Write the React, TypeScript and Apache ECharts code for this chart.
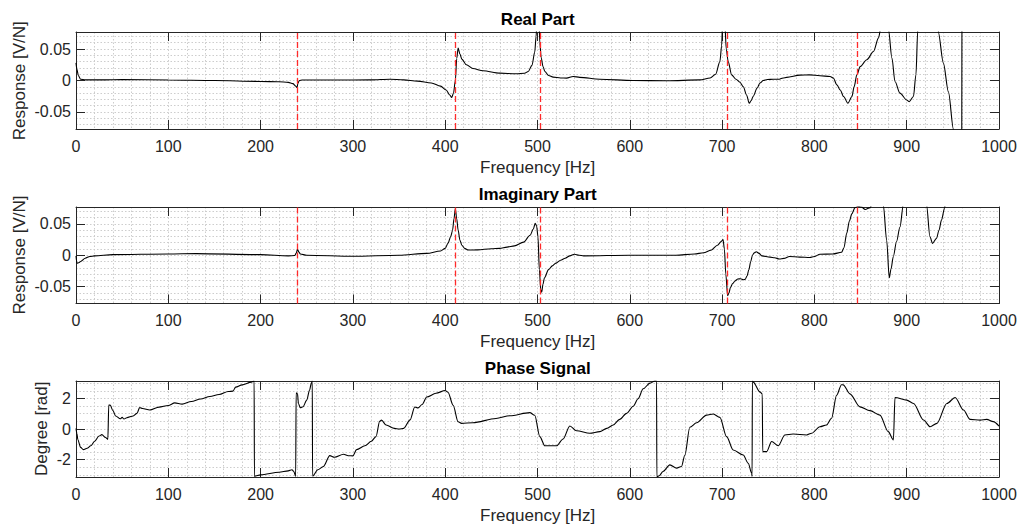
import React, { useEffect, useRef } from 'react';
import * as echarts from 'echarts';

// ---------- data ----------
const resonanceFreqs = [240, 410.5, 503, 706, 846];
const responseTicks = [-0.05, 0, 0.05];
const phaseTicks = [-2, 0, 2];
const responseLimit = 0.077;
const phaseLimit = Math.PI;

const realFreq = [0, 1, 2.5, 5, 10, 30, 50, 100, 150, 200, 220, 230, 235, 238, 239.5, 240.5, 242, 245, 280, 320, 340, 355, 370, 385, 395, 401, 405, 407, 409, 411, 412.5, 414, 416, 418, 423, 430, 441, 459, 477, 486, 490, 494, 497, 498.5, 499.5, 501.5, 502.5, 504, 506, 508, 512, 517, 525, 531.5, 538.6, 545.8, 567.6, 603.6, 640, 676, 687, 693, 697.6, 699.5, 700.5, 703, 704.5, 706.6, 710.3, 715, 719.3, 723, 726.5, 729.4, 731.5, 733.7, 738, 741, 744.6, 749, 755.4, 762, 766, 770, 784.3, 795, 806, 817, 820.5, 824.4, 828, 831.6, 836.3, 840.7, 843, 846, 849.6, 856.8, 864, 869.5, 871.5, 875, 878, 880.3, 884, 887.3, 892.7, 900, 902.8, 907.3, 910, 912, 914, 932, 934.2, 939.7, 945.2, 950.6, 952, 959.5, 960, 1000];
const realVal = [0.028, 0.018, 0.008, 0.002, 0.001, 0.001, 0.0015, 0.0008, 0.0, -0.0015, -0.002, -0.003, -0.005, -0.009, -0.011, -0.004, 0.0, 0.0008, 0.0008, 0.001, 0.002, 0.001, -0.001, -0.004, -0.009, -0.015, -0.023, -0.027, -0.02, 0.0, 0.035, 0.0515, 0.042, 0.034, 0.025, 0.019, 0.0154, 0.0117, 0.0106, 0.0115, 0.0144, 0.024, 0.045, 0.07, 0.1, 0.1, 0.06, 0.036, 0.022, 0.0144, 0.008, 0.0053, 0.004, 0.0037, 0.0064, 0.005, 0.0021, 0.0, -0.0005, 0.001, 0.004, 0.01, 0.03, 0.055, 0.09, 0.09, 0.05, 0.03, 0.009, 0.002, -0.0027, -0.01, -0.023, -0.036, -0.032, -0.025, -0.012, -0.004, 0.0, 0.0015, 0.002, 0.002, 0.004, 0.005, 0.0085, 0.009, 0.0075, 0.0064, 0.004, -0.007, -0.015, -0.0255, -0.036, -0.0255, -0.01, 0.009, 0.022, 0.033, 0.046, 0.0676, 0.08, 0.12, 0.12, 0.08, 0.0356, -0.0016, -0.02, -0.031, -0.0335, -0.0255, 0.009, 0.08, 0.15, 0.15, 0.077, 0.028, -0.018, -0.077, -0.1, -0.2, 0.2, 0.2];

const imagFreq = [0, 1, 3, 5, 10, 15, 20, 40, 100, 130, 200, 230, 237, 238.5, 240, 241.5, 243, 250, 300, 350, 380, 395, 400, 403, 406, 408, 409.5, 411, 412.5, 414, 416, 418, 421, 425, 435, 450, 459, 467, 475, 485, 492, 495.5, 497.5, 499, 500.5, 502, 503.5, 504.5, 506, 507.5, 512, 516, 520, 525, 530, 535, 540, 545, 550, 600, 650, 670, 680, 688, 695, 699, 701, 702.5, 704, 706, 707.5, 709, 711.5, 714, 717, 720, 723, 725, 727, 729, 731, 733, 735, 737, 740, 743, 752, 757, 762, 767, 773, 784, 795, 800, 806, 820, 829.5, 832, 835, 838, 840.5, 844, 847.8, 851, 855, 860.4, 862, 868, 873, 874.7, 878.3, 881.1, 883, 885.5, 889, 892.7, 896.3, 898, 920, 921.5, 925.2, 928, 932.3, 935, 937.7, 941, 942.5, 946, 1000];
const imagVal = [-0.001, -0.0125, -0.012, -0.01, -0.0047, -0.002, -0.001, 0.001, 0.002, 0.0026, 0.001, -0.001, -0.0005, 0.003, 0.0095, 0.005, 0.002, 0.0, -0.0016, 0.0, 0.003, 0.0068, 0.011, 0.019, 0.03, 0.04, 0.058, 0.0745, 0.058, 0.04, 0.024, 0.016, 0.011, 0.0083, 0.0085, 0.0104, 0.011, 0.013, 0.015, 0.021, 0.032, 0.042, 0.051, 0.047, 0.03, -0.023, -0.055, -0.059, -0.046, -0.036, -0.023, -0.017, -0.0125, -0.008, -0.0047, -0.001, 0.0016, 0.0, -0.001, 0.0, 0.0, 0.002, 0.004, 0.008, 0.016, 0.022, 0.025, 0.01, -0.03, -0.0646, -0.06, -0.0516, -0.045, -0.041, -0.038, -0.0375, -0.039, -0.0385, -0.033, -0.023, -0.01, 0.0005, 0.004, 0.0057, 0.003, -0.001, -0.003, -0.004, -0.006, -0.005, -0.002, -0.003, -0.0036, -0.002, 0.0016, 0.002, 0.0047, 0.012, 0.035, 0.055, 0.066, 0.076, 0.078, 0.077, 0.073, 0.076, 0.08, 0.12, 0.12, 0.08, 0.024, -0.036, -0.022, -0.002, 0.022, 0.045, 0.08, 0.12, 0.12, 0.08, 0.0295, 0.019, 0.027, 0.04, 0.056, 0.075, 0.09, 0.15, 0.15];

const phaseFreq = [0, 1, 2, 5, 8, 12, 16, 20, 25, 28, 32, 34.5, 35.5, 37, 40, 43, 48, 50, 52, 55, 62, 66, 69, 72, 80, 90, 100, 107, 115, 125, 135, 145, 155, 165, 170, 173, 180, 190, 193, 193.3, 200, 220, 230, 234, 236, 238, 238.5, 240, 241, 243, 246, 250, 253, 255, 256, 256.3, 262, 268, 275, 280, 290, 295, 300, 304, 313, 320, 325, 329, 331, 336, 345, 350, 355, 362, 367, 370.6, 375, 380, 390, 400, 403, 408.6, 414, 417.7, 430, 455, 470, 491.7, 497, 502.5, 508, 520.6, 527.8, 535, 542.3, 556.7, 567.5, 575, 582, 589, 596.5, 603.7, 609, 614.5, 621.8, 627.2, 629, 629.3, 631.8, 636, 643.4, 650.7, 656, 659.7, 665, 672.4, 683.2, 690.4, 697.6, 704.9, 712, 722.9, 728.3, 732, 732.5, 732.8, 733.7, 741, 743.5, 744, 748.2, 753.7, 760.8, 768, 777, 791.6, 797, 806, 813, 818.6, 824, 829.4, 831.2, 838.5, 849.3, 860.2, 871, 880, 885.6, 887.3, 900, 907.4, 918.2, 925.4, 932.7, 943.5, 952.5, 961.5, 968.7, 979.5, 986.7, 993.8, 1000];
const phaseVal = [0.04, -0.3, -0.7, -1.2, -1.35, -1.26, -1.1, -0.82, -0.46, -0.37, -0.56, -0.68, 1.56, 1.56, 1.2, 0.85, 0.67, 0.76, 0.65, 0.74, 0.85, 1.02, 1.4, 1.34, 1.24, 1.43, 1.54, 1.71, 1.63, 1.8, 1.96, 2.13, 2.26, 2.45, 2.48, 2.74, 2.89, 3.07, 3.14, -3.1, -3.0, -2.83, -2.74, -2.67, -2.78, -3.1, 2.37, 2.3, 1.67, 1.39, 1.46, 1.89, 2.54, 3.0, 3.14, -3.08, -2.67, -2.45, -1.74, -1.85, -1.65, -1.75, -1.76, -1.35, -1.1, -0.8, -0.5, 0.5, 0.58, 0.26, 0.04, 0.0, 0.04, 0.6, 1.44, 1.38, 1.6, 2.09, 2.34, 2.52, 2.41, 1.55, 0.47, 0.37, 0.41, 0.69, 0.87, 1.07, 0.9, -0.5, -1.1, -1.1, -0.65, 0.2, -0.11, -0.28, -0.17, 0.04, 0.26, 0.63, 1.02, 1.49, 1.98, 2.63, 3.0, 3.14, 3.14, -3.14, -3.06, -2.78, -2.35, -2.56, -2.45, -1.7, 0.11, 0.41, 0.91, 0.98, 0.76, -0.5, -1.37, -1.7, -2.24, -2.89, -3.1, 3.14, 3.07, 2.43, 2.3, -1.48, -1.48, -0.82, -1.1, -0.39, -0.33, -0.39, -0.28, 0.15, 0.26, 0.7, 2.2, 2.9, 2.89, 2.3, 1.45, 1.2, 0.91, -0.17, -0.71, 2.06, 1.89, 1.67, 0.59, 0.15, 0.37, 1.67, 2.06, 1.24, 0.63, 0.58, 0.63, 0.48, 0.19];

// ---------- styling ----------
const FONT = "'Liberation Sans', Arial, Helvetica, sans-serif";
const AX = '#262626';
const GRID_LINE = { show: true, lineStyle: { color: '#cdcdcd', type: [1.5, 2], width: 1 } };
const PLOT_LEFT = 76;
const PLOT_RIGHT = 21;
const PLOT_CX = 537.7;
const panels = [
  { top: 32, height: 97 },
  { top: 207, height: 96.5 },
  { top: 381, height: 96 },
];

const zip = (xs: number[], ys: number[]) => xs.map((x, i) => [x, ys[i]]);

function tickFormatter(ticks: number[]) {
  return (v: number) => {
    const hit = ticks.find((t) => Math.abs(t - v) < 1e-9);
    return hit === undefined ? '' : String(hit);
  };
}

function makeXAxes(gridIndex: number) {
  const base: any = {
    type: 'value',
    gridIndex,
    min: 0,
    max: 1000,
    interval: 100,
    axisLine: { show: true, onZero: false, lineStyle: { color: AX, width: 1 } },
    axisTick: { show: true, inside: true, length: 9, lineStyle: { color: AX, width: 1 } },
  };
  return [
    {
      ...base,
      position: 'bottom',
      axisLabel: {
        show: true,
        margin: 9,
        color: AX,
        fontSize: 16,
        fontFamily: FONT,
        formatter: (v: number) => String(v),
      },
      splitLine: GRID_LINE,
      minorTick: { show: false, splitNumber: 5 },
      minorSplitLine: GRID_LINE,
    },
    { ...base, position: 'top', axisLabel: { show: false }, splitLine: { show: false } },
  ];
}

function makeYAxes(gridIndex: number, limit: number, step: number, ticks: number[], minorSplit: number) {
  const base: any = {
    type: 'value',
    gridIndex,
    min: -limit,
    max: limit,
    splitNumber: 3,
    minInterval: step,
    maxInterval: step,
    axisLine: { show: true, onZero: false, lineStyle: { color: AX, width: 1 } },
    axisTick: { show: true, inside: true, length: 9, lineStyle: { color: AX, width: 1 } },
  };
  return [
    {
      ...base,
      position: 'left',
      axisLabel: { show: true, margin: 5, color: AX, fontSize: 16, fontFamily: FONT, formatter: tickFormatter(ticks) },
      splitLine: GRID_LINE,
      minorTick: { show: false, splitNumber: minorSplit },
      minorSplitLine: GRID_LINE,
    },
    { ...base, position: 'right', axisLabel: { show: false }, splitLine: { show: false } },
  ];
}

const markLine = {
  silent: true,
  symbol: ['none', 'none'],
  label: { show: false },
  lineStyle: { color: '#ff2a2a', type: [6, 3], width: 1.3 },
  data: resonanceFreqs.map((f) => ({ xAxis: f })),
};

function lineSeries(idx: number, data: number[][], withMarks: boolean) {
  const s: any = {
    type: 'line',
    xAxisIndex: idx * 2,
    yAxisIndex: idx * 2,
    data,
    showSymbol: false,
    symbol: 'none',
    clip: true,
    smooth: 0.3,
    smoothMonotone: 'x',
    lineStyle: { color: '#000000', width: 1.1 },
    z: 3,
  };
  if (withMarks) s.markLine = markLine;
  return s;
}

function text(x: number, y: number, str: string, size: number, bold: boolean, rotation = 0) {
  return {
    type: 'text',
    x,
    y,
    rotation,
    style: {
      text: str,
      fill: bold ? '#000000' : AX,
      font: `${bold ? 'bold ' : ''}${size}px ${FONT}`,
      textAlign: 'center',
      textVerticalAlign: 'middle',
    },
  };
}

export default function App() {
  const ref = useRef<HTMLDivElement>(null);
  useEffect(() => {
    if (!ref.current) return;
    const chart = echarts.init(ref.current, undefined, { renderer: 'svg' });
    const option: any = {
      animation: false,
      backgroundColor: '#ffffff',
      grid: panels.map((p) => ({ left: PLOT_LEFT, right: PLOT_RIGHT, top: p.top, height: p.height, containLabel: false })),
      xAxis: [...makeXAxes(0), ...makeXAxes(1), ...makeXAxes(2)],
      yAxis: [
        ...makeYAxes(0, responseLimit, 0.05, responseTicks, 5),
        ...makeYAxes(1, responseLimit, 0.05, responseTicks, 5),
        ...makeYAxes(2, phaseLimit, 2, phaseTicks, 4),
      ],
      series: [
        lineSeries(0, zip(realFreq, realVal), true),
        lineSeries(1, zip(imagFreq, imagVal), true),
        lineSeries(2, zip(phaseFreq, phaseVal), false),
      ],
      graphic: [
        text(PLOT_CX, 19.8, 'Real Part', 17, true),
        text(PLOT_CX, 194.5, 'Imaginary Part', 17, true),
        text(PLOT_CX, 368, 'Phase Signal', 17, true),
        text(PLOT_CX, 167.5, 'Frequency [Hz]', 17, false),
        text(PLOT_CX, 341.8, 'Frequency [Hz]', 17, false),
        text(PLOT_CX, 515.5, 'Frequency [Hz]', 17, false),
        text(19, 80.7, 'Response [V/N]', 17, false, Math.PI / 2),
        text(19, 255, 'Response [V/N]', 17, false, Math.PI / 2),
        text(41.5, 428.8, 'Degree [rad]', 17, false, Math.PI / 2),
      ],
    };
    chart.setOption(option);
    return () => chart.dispose();
  }, []);
  return (
    <div
      ref={ref}
      style={{ position: 'absolute', left: 0, top: 0, width: 1020, height: 527, background: '#ffffff' }}
    />
  );
}
